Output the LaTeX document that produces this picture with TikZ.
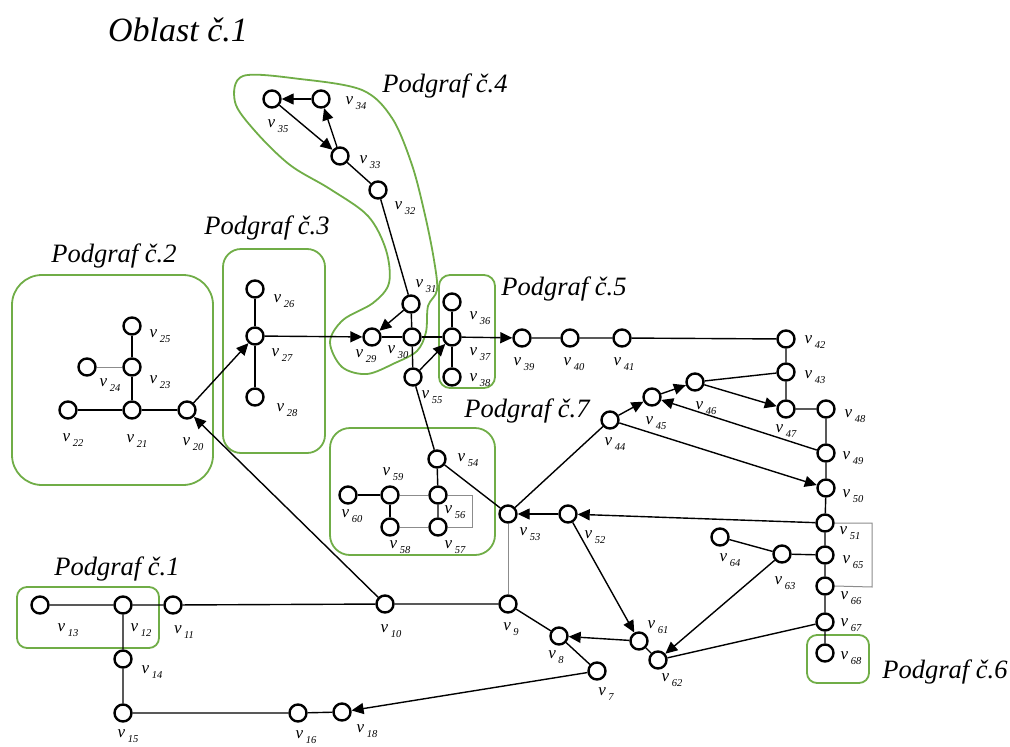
\documentclass[tikz,border=0pt]{standalone}
\usepackage{fontspec}
\setmainfont{Liberation Serif}
\usetikzlibrary{arrows.meta,backgrounds}
\definecolor{grp}{HTML}{70AD47}
\newcommand\vv[1]{v\kern2.5pt\raisebox{-4.5pt}{\fontsize{10.5}{10.5}\selectfont #1}}

\begin{document}
\begin{tikzpicture}[x=1pt,y=-1pt,
  vx/.style={circle,draw=black,line width=2.4pt,fill=white,minimum size=17pt,inner sep=0pt},
  lab/.style={font=\fontsize{17}{17}\selectfont\itshape,inner sep=0pt},
  ttl/.style={font=\fontsize{26.5}{26.5}\selectfont\itshape,inner sep=0pt},
  grpbox/.style={draw=grp,line width=1.8pt,rounded corners=#1},
  ed/.style={line width=1.4pt},
  led/.style={line width=1pt,draw=black!45},
  arr/.style={ed,-{Triangle[length=12pt,width=11pt]}}
]
\useasboundingbox (0,0) rectangle (1010,747);

% titles
\node[inner sep=0pt,font=\fontsize{34}{34}\selectfont\itshape] (title) at (178,30) {Oblast č.1};
\node[ttl] (g1) at (117,569) {Podgraf č.1};
\node[ttl] (g2) at (114,256) {Podgraf č.2};
\node[ttl] (g3) at (267,228) {Podgraf č.3};
\node[ttl] (g4) at (445,86) {Podgraf č.4};
\node[ttl] (g5) at (564,289) {Podgraf č.5};
\node[ttl] (g6) at (945,672) {Podgraf č.6};
\node[ttl] (g7) at (527,411) {Podgraf č.7};

% vertices
\node[vx] (n7)  at (597,671) {};
\node[vx] (n8)  at (559,636) {};
\node[vx] (n9)  at (508,604) {};
\node[vx] (n10) at (385,604) {};
\node[vx] (n11) at (173,605) {};
\node[vx] (n12) at (123,605) {};
\node[vx] (n13) at (40,605) {};
\node[vx] (n14) at (123,659) {};
\node[vx] (n15) at (123,713) {};
\node[vx] (n16) at (298,713) {};
\node[vx] (n18) at (342,712) {};
\node[vx] (n20) at (187,410) {};
\node[vx] (n21) at (132,410) {};
\node[vx] (n22) at (68,410) {};
\node[vx] (n23) at (132,367) {};
\node[vx] (n24) at (87,367) {};
\node[vx] (n25) at (132,326) {};
\node[vx] (n26) at (255,289) {};
\node[vx] (n27) at (255,336) {};
\node[vx] (n28) at (255,397) {};
\node[vx] (n29) at (372,337) {};
\node[vx] (n30) at (412,337) {};
\node[vx] (n31) at (411,304) {};
\node[vx] (n32) at (378,190) {};
\node[vx] (n33) at (340,156) {};
\node[vx] (n34) at (321,99) {};
\node[vx] (n35) at (272,99) {};
\node[vx] (n36) at (452,302) {};
\node[vx] (n37) at (452,337) {};
\node[vx] (n38) at (452,377) {};
\node[vx] (n39) at (522,338) {};
\node[vx] (n40) at (570,338) {};
\node[vx] (n41) at (622,338) {};
\node[vx] (n42) at (786,339) {};
\node[vx] (n43) at (786,372) {};
\node[vx] (n44) at (610,420) {};
\node[vx] (n45) at (652,397) {};
\node[vx] (n46) at (695,382) {};
\node[vx] (n47) at (786,409) {};
\node[vx] (n48) at (826,409) {};
\node[vx] (n49) at (826,453) {};
\node[vx] (n50) at (826,488) {};
\node[vx] (n51) at (825,523) {};
\node[vx] (n52) at (568,514) {};
\node[vx] (n53) at (508,514) {};
\node[vx] (n54) at (437,459) {};
\node[vx] (n55) at (413,377) {};
\node[vx] (n56) at (438,495) {};
\node[vx] (n57) at (438,527) {};
\node[vx] (n58) at (390,527) {};
\node[vx] (n59) at (390,495) {};
\node[vx] (n60) at (348,495) {};
\node[vx] (n61) at (639,641) {};
\node[vx] (n62) at (658,660) {};
\node[vx] (n63) at (782,554) {};
\node[vx] (n64) at (720,537) {};
\node[vx] (n65) at (825,555) {};
\node[vx] (n66) at (825,586) {};
\node[vx] (n67) at (825,622) {};
\node[vx] (n68) at (825,653) {};

% corners of the two parallel-edge loops
\coordinate (a1) at (472,495);
\coordinate (a2) at (472,527);
\coordinate (b1) at (872,523);
\coordinate (b2) at (872,587);

% vertex labels
\node[lab] (t7)  at (606,694) {\vv{7}};
\node[lab] (t8)  at (556,657) {\vv{8}};
\node[lab] (t9)  at (511,629) {\vv{9}};
\node[lab] (t10) at (391,631) {\vv{10}};
\node[lab] (t11) at (184,632) {\vv{11}};
\node[lab] (t12) at (141,630) {\vv{12}};
\node[lab] (t13) at (68,630) {\vv{13}};
\node[lab] (t14) at (152,672) {\vv{14}};
\node[lab] (t15) at (128,736) {\vv{15}};
\node[lab] (t16) at (306,737) {\vv{16}};
\node[lab] (t18) at (367,731) {\vv{18}};
\node[lab] (t20) at (193,444) {\vv{20}};
\node[lab] (t21) at (137,441) {\vv{21}};
\node[lab] (t22) at (73,440) {\vv{22}};
\node[lab] (t23) at (160,382) {\vv{23}};
\node[lab] (t24) at (110,385) {\vv{24}};
\node[lab] (t25) at (160,336) {\vv{25}};
\node[lab] (t26) at (284,301) {\vv{26}};
\node[lab] (t27) at (282,355) {\vv{27}};
\node[lab] (t28) at (287,410) {\vv{28}};
\node[lab] (t29) at (366,356) {\vv{29}};
\node[lab] (t30) at (398,352) {\vv{30}};
\node[lab] (t31) at (426,286) {\vv{31}};
\node[lab] (t32) at (405,208) {\vv{32}};
\node[lab] (t33) at (370,162) {\vv{33}};
\node[lab] (t34) at (356,103) {\vv{34}};
\node[lab] (t35) at (278,126) {\vv{35}};
\node[lab] (t36) at (480,318) {\vv{36}};
\node[lab] (t37) at (480,354) {\vv{37}};
\node[lab] (t38) at (480,380) {\vv{38}};
\node[lab] (t39) at (524,364) {\vv{39}};
\node[lab] (t40) at (574,364) {\vv{40}};
\node[lab] (t41) at (624,364) {\vv{41}};
\node[lab] (t42) at (815,342) {\vv{42}};
\node[lab] (t43) at (815,377) {\vv{43}};
\node[lab] (t44) at (615,444) {\vv{44}};
\node[lab] (t45) at (656,423) {\vv{45}};
\node[lab] (t46) at (706,408) {\vv{46}};
\node[lab] (t47) at (786,431) {\vv{47}};
\node[lab] (t48) at (855,416) {\vv{48}};
\node[lab] (t49) at (853,458) {\vv{49}};
\node[lab] (t50) at (853,496) {\vv{50}};
\node[lab] (t51) at (850,533) {\vv{51}};
\node[lab] (t52) at (595,537) {\vv{52}};
\node[lab] (t53) at (530,534) {\vv{53}};
\node[lab] (t54) at (468,460) {\vv{54}};
\node[lab] (t55) at (432,397) {\vv{55}};
\node[lab] (t56) at (455,512) {\vv{56}};
\node[lab] (t57) at (455,547) {\vv{57}};
\node[lab] (t58) at (400,547) {\vv{58}};
\node[lab] (t59) at (393,474) {\vv{59}};
\node[lab] (t60) at (352,516) {\vv{60}};
\node[lab] (t61) at (658,627) {\vv{61}};
\node[lab] (t62) at (672,680) {\vv{62}};
\node[lab] (t63) at (785,583) {\vv{63}};
\node[lab] (t64) at (730,560) {\vv{64}};
\node[lab] (t65) at (853,562) {\vv{65}};
\node[lab] (t66) at (851,598) {\vv{66}};
\node[lab] (t67) at (851,625) {\vv{67}};
\node[lab] (t68) at (851,658) {\vv{68}};

\begin{scope}[on background layer]
% subgraph outlines
\draw[grpbox=10pt] (17,587) rectangle (159,648);
\draw[grpbox=30pt] (12,275) rectangle (213,485);
\draw[grpbox=18pt] (223,249) rectangle (325,453);
\draw[grpbox=11pt] (439,275) rectangle (495,388);
\draw[grpbox=20pt] (330,428) rectangle (495,555);
\draw[grpbox=10pt] (807,635) rectangle (869,683);
\draw[draw=grp,line width=1.8pt] plot[smooth cycle,tension=0.55] coordinates {
  (243,76) (300,79) (362,90) (392,118) (412,165) (425,215) (434,260)
  (437,290) (428,306) (426,332) (417,351) (395,363) (367,374) (342,367)
  (330,342) (343,320) (373,303) (389,283) (386,250) (368,216) (330,189)
  (290,165) (255,131) (235,102)};

% edges
\draw[arr] (n34) -- (n35);
\draw[arr] (n35) -- (n33);
\draw[arr] (n33) -- (n34);
\draw[ed] (n33) -- (n32) -- (n31) -- (n30) -- (n55);
\draw[arr] (n31) -- (n29);
\draw[arr] (n27) -- (n29);
\draw[ed] (n29) -- (n30) -- (n37);
\draw[arr] (n55) -- (n37);
\draw[ed] (n36) -- (n37) -- (n38);
\draw[arr] (n37) -- (n39);
\draw[ed] (n39) -- (n40) -- (n41) -- (n42) -- (n43) -- (n47) -- (n48) -- (n49)
  -- (n50) -- (n51) -- (n65) -- (n66) -- (n67) -- (n68);
\draw[ed] (n43) -- (n46);
\draw[arr] (n46) -- (n47);
\draw[arr] (n49) -- (n45);
\draw[arr] (n45) -- (n46);
\draw[arr] (n44) -- (n45);
\draw[arr] (n44) -- (n50);
\draw[arr] (n51) -- (n52);
\draw[arr] (n52) -- (n53);
\draw[ed] (n44) -- (n53);
\draw[ed] (n55) -- (n54) -- (n53);
\draw[ed] (n54) -- (n56) -- (n57);
\draw[led] (n59) -- (n56);
\draw[led] (n56.east) -- (a1) -- (a2) -- (n57.east);
\draw[ed] (n60) -- (n59) -- (n58);
\draw[led] (n58) -- (n57);
\draw[led] (n53) -- (n9);
\draw[ed] (n9) -- (n10) -- (n11) -- (n12) -- (n13);
\draw[arr] (n10) -- (n20);
\draw[arr] (n20) -- (n27);
\draw[ed] (n20) -- (n21) -- (n22);
\draw[ed] (n21) -- (n23) -- (n25);
\draw[led] (n23) -- (n24);
\draw[ed] (n26) -- (n27) -- (n28);
\draw[ed] (n12) -- (n14) -- (n15) -- (n16) -- (n18);
\draw[arr] (n7) -- (n18);
\draw[ed] (n9) -- (n8) -- (n7);
\draw[arr] (n61) -- (n8);
\draw[arr] (n52) -- (n61);
\draw[ed] (n61) -- (n62);
\draw[arr] (n63) -- (n62);
\draw[ed] (n67) -- (n62);
\draw[ed] (n64) -- (n63) -- (n65);
\draw[led] (n51.east) -- (b1) -- (b2) -- (n66.east);
\end{scope}
\end{tikzpicture}
\end{document}
